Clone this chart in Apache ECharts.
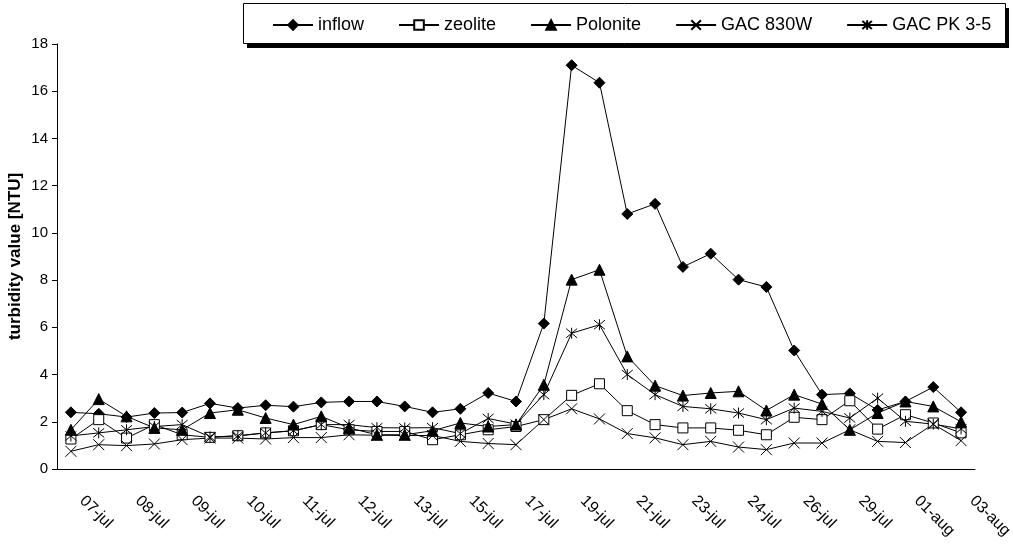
<!DOCTYPE html>
<html>
<head>
<meta charset="utf-8">
<script src="https://cdn.jsdelivr.net/npm/echarts@6/dist/echarts.min.js"></script>
<style>
  html, body { margin: 0; padding: 0; background: #fff; }
  #chart { width: 1013px; height: 548px; }
</style>
</head>
<body>
<div id="chart"></div>
<script>
// sampling dates (only every other one is labelled on the axis)
const dates = ['07-jul','07-jul','08-jul','08-jul','09-jul','09-jul','10-jul','10-jul','11-jul','11-jul',
  '12-jul','12-jul','13-jul','14-jul','15-jul','16-jul','17-jul','18-jul','19-jul','20-jul','21-jul',
  '22-jul','23-jul','23-jul','24-jul','25-jul','26-jul','27-jul','29-jul','30-jul','01-aug','02-aug','03-aug'];

// turbidity values [NTU]
const inflow = [2.40, 2.34, 2.20, 2.37, 2.39, 2.78, 2.58, 2.70, 2.64, 2.82, 2.86, 2.86, 2.65, 2.40, 2.55, 3.22, 2.86,
  6.16, 17.1, 16.36, 10.8, 11.23, 8.56, 9.12, 8.02, 7.71, 5.02, 3.15, 3.20, 2.50, 2.86, 3.47, 2.40];
const zeolite = [1.27, 2.09, 1.31, 1.88, 1.45, 1.34, 1.41, 1.53, 1.62, 1.88, 1.66, 1.59, 1.59, 1.24, 1.45, 1.66, 1.80,
  2.09, 3.12, 3.61, 2.47, 1.88, 1.74, 1.74, 1.64, 1.45, 2.19, 2.09, 2.89, 1.69, 2.30, 1.95, 1.53];
const polonite = [1.66, 2.96, 2.23, 1.74, 1.66, 2.37, 2.51, 2.16, 1.88, 2.23, 1.74, 1.45, 1.45, 1.62, 1.95, 1.80, 1.88,
  3.57, 8.02, 8.44, 4.77, 3.53, 3.11, 3.22, 3.29, 2.48, 3.15, 2.75, 1.66, 2.37, 2.86, 2.65, 2.00];
const gac830 = [0.75, 1.03, 0.99, 1.06, 1.24, 1.31, 1.31, 1.27, 1.33, 1.33, 1.45, 1.43, 1.42, 1.42, 1.17, 1.08, 1.03,
  2.09, 2.55, 2.12, 1.50, 1.32, 1.03, 1.17, 0.93, 0.82, 1.10, 1.10, 1.66, 1.17, 1.12, 1.90, 1.20];
const gacPK = [1.40, 1.53, 1.66, 1.80, 1.88, 1.36, 1.40, 1.53, 1.62, 1.88, 1.88, 1.75, 1.74, 1.75, 1.50, 2.14, 1.90,
  3.15, 5.75, 6.11, 4.00, 3.15, 2.65, 2.55, 2.37, 2.09, 2.58, 2.44, 2.16, 3.00, 2.02, 1.90, 1.70];

const crossPath = 'path://M0,0L10,10M10,0L0,10';
const starPath = 'path://M0,0L10,10M10,0L0,10M5,-1L5,11';

let makeSeries = function (name, data, symbol, size, fill) {
  return {
    name: name,
    type: 'line',
    data: data,
    symbol: symbol,
    symbolSize: size,
    showAllSymbol: true,
    animation: false,
    lineStyle: { color: '#000', width: 1 },
    itemStyle: { color: fill, borderColor: '#000', borderWidth: 1 }
  };
};

const chart = echarts.init(document.getElementById('chart'));
chart.setOption({
  backgroundColor: '#fff',
  textStyle: { fontFamily: 'Liberation Sans, Arial, sans-serif', color: '#000' },
  // legend frame with the dark drop shadow under it
  graphic: [
    { type: 'rect', z: 1, silent: true, shape: { x: 247, y: 8, width: 762, height: 40 }, style: { fill: '#000' } },
    { type: 'rect', z: 2, silent: true, shape: { x: 243.5, y: 3.5, width: 762, height: 40 },
      style: { fill: '#fff', stroke: '#000', lineWidth: 1 } }
  ],
  legend: {
    left: 243,
    top: 4,
    z: 10,
    padding: [12, 12, 12, 29],
    itemWidth: 40,
    itemHeight: 12,
    itemGap: 34,
    textStyle: { fontSize: 18, color: '#000', fontFamily: 'Liberation Sans, Arial, sans-serif' },
    data: ['inflow', 'zeolite', 'Polonite', 'GAC 830W', 'GAC PK 3-5']
  },
  grid: { left: 57, right: 38, top: 44, bottom: 79, containLabel: false, outerBoundsMode: 'none' },
  xAxis: {
    type: 'category',
    data: dates,
    boundaryGap: true,
    axisLine: { lineStyle: { color: '#000', width: 1 } },
    axisTick: { inside: true, length: 5, interval: 0, lineStyle: { color: '#000' } },
    axisLabel: {
      interval: 1,
      rotate: -45,
      margin: 18,
      padding: [0, 0, 0, 16],
      fontSize: 16,
      color: '#000'
    },
    splitLine: { show: false }
  },
  yAxis: {
    type: 'value',
    min: 0,
    max: 18,
    interval: 2,
    name: 'turbidity value [NTU]',
    nameLocation: 'middle',
    nameGap: 33,
    nameMoveOverlap: false,
    nameTextStyle: { fontSize: 17, fontWeight: 'bold', color: '#000' },
    axisLine: { show: true, lineStyle: { color: '#000', width: 1 } },
    axisTick: { show: true, length: 5, lineStyle: { color: '#000' } },
    axisLabel: { fontSize: 15, color: '#000', margin: 9 },
    splitLine: { show: false }
  },
  series: [
    makeSeries('inflow', inflow, 'diamond', 11, '#000'),
    makeSeries('zeolite', zeolite, 'rect', 10, '#fff'),
    makeSeries('Polonite', polonite, 'triangle', 11, '#000'),
    makeSeries('GAC 830W', gac830, crossPath, 11, '#000'),
    makeSeries('GAC PK 3-5', gacPK, starPath, 11, '#000')
  ]
});
</script>
</body>
</html>
